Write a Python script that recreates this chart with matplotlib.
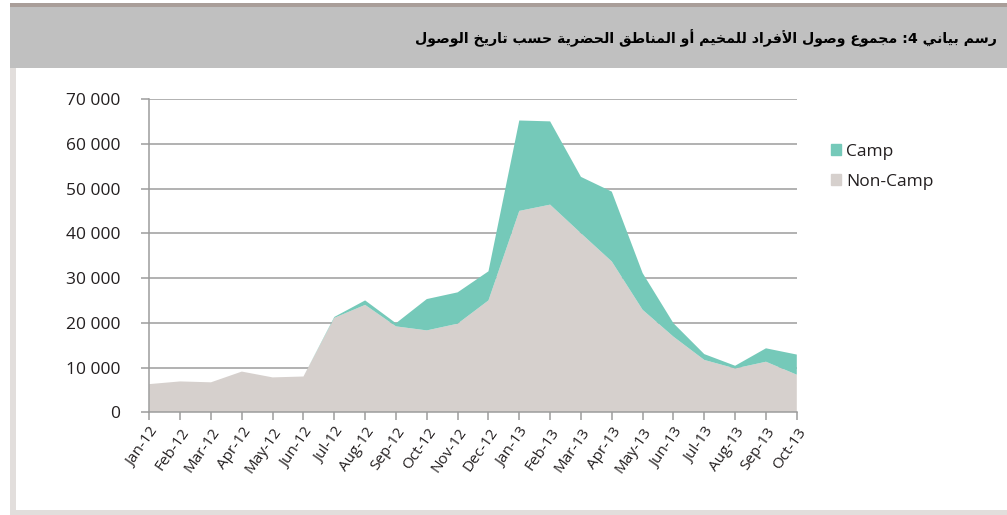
import matplotlib
matplotlib.use('Agg')
import matplotlib.pyplot as plt
from matplotlib.patches import Rectangle, Patch
from matplotlib.ticker import FuncFormatter

# --- data ---
months = ['Jan-12', 'Feb-12', 'Mar-12', 'Apr-12', 'May-12', 'Jun-12', 'Jul-12',
          'Aug-12', 'Sep-12', 'Oct-12', 'Nov-12', 'Dec-12', 'Jan-13', 'Feb-13',
          'Mar-13', 'Apr-13', 'May-13', 'Jun-13', 'Jul-13', 'Aug-13', 'Sep-13',
          'Oct-13']
non_camp = [6300, 6900, 6700, 9100, 7800, 8000, 21100, 24000, 19200, 18300,
            19800, 25000, 45000, 46400, 40000, 33700, 22900, 16900, 11700, 9800,
            11300, 8400]
camp = [0, 0, 0, 0, 0, 0, 200, 1000, 700, 7000, 7000, 6500, 20200, 18600,
        12600, 15600, 8200, 3000, 1300, 600, 3000, 4500]
y_ticks = [0, 10000, 20000, 30000, 40000, 50000, 60000, 70000]

TITLE = 'رسم بياني 4: مجموع وصول الأفراد للمخيم أو المناطق الحضرية حسب تاريخ الوصول'

COLOR_CAMP = '#75c9b9'
COLOR_NONCAMP = '#d6d0cd'
COLOR_GRID = '#9c9c9c'
COLOR_TEXT = '#231f20'

# --- arabic shaping (matplotlib does not shape/bidi by itself) ---
# isolated, final, initial, medial
FORMS = {
    'ا': (0xFE8D, 0xFE8E, None, None), 'أ': (0xFE83, 0xFE84, None, None),
    'ب': (0xFE8F, 0xFE90, 0xFE91, 0xFE92), 'ة': (0xFE93, 0xFE94, None, None),
    'ت': (0xFE95, 0xFE96, 0xFE97, 0xFE98), 'ج': (0xFE9D, 0xFE9E, 0xFE9F, 0xFEA0),
    'ح': (0xFEA1, 0xFEA2, 0xFEA3, 0xFEA4), 'خ': (0xFEA5, 0xFEA6, 0xFEA7, 0xFEA8),
    'د': (0xFEA9, 0xFEAA, None, None), 'ر': (0xFEAD, 0xFEAE, None, None),
    'س': (0xFEB1, 0xFEB2, 0xFEB3, 0xFEB4), 'ص': (0xFEB9, 0xFEBA, 0xFEBB, 0xFEBC),
    'ض': (0xFEBD, 0xFEBE, 0xFEBF, 0xFEC0), 'ط': (0xFEC1, 0xFEC2, 0xFEC3, 0xFEC4),
    'ع': (0xFEC9, 0xFECA, 0xFECB, 0xFECC), 'ف': (0xFED1, 0xFED2, 0xFED3, 0xFED4),
    'ق': (0xFED5, 0xFED6, 0xFED7, 0xFED8), 'ل': (0xFEDD, 0xFEDE, 0xFEDF, 0xFEE0),
    'م': (0xFEE1, 0xFEE2, 0xFEE3, 0xFEE4), 'ن': (0xFEE5, 0xFEE6, 0xFEE7, 0xFEE8),
    'و': (0xFEED, 0xFEEE, None, None), 'ي': (0xFEF1, 0xFEF2, 0xFEF3, 0xFEF4),
    'لأ': (0xFEF7, 0xFEF8, None, None), 'لا': (0xFEFB, 0xFEFC, None, None),
}


def shape_arabic(text):
    # split into units, merging lam-alef
    units = []
    i = 0
    while i < len(text):
        if text[i] == 'ل' and i + 1 < len(text) and text[i + 1] in 'أا':
            units.append(text[i:i + 2])
            i += 2
        else:
            units.append(text[i])
            i += 1
    out = []
    for k, u in enumerate(units):
        if u not in FORMS:
            out.append(u)
            continue
        f = FORMS[u]
        prev = units[k - 1] if k > 0 else None
        nxt = units[k + 1] if k + 1 < len(units) else None
        jp = prev in FORMS and FORMS[prev][2] is not None
        jn = nxt in FORMS and f[2] is not None
        if jp and jn:
            cp = f[3]
        elif jp:
            cp = f[1]
        elif jn:
            cp = f[2]
        else:
            cp = f[0]
        out.append(chr(cp))
    # right-to-left visual order
    return ''.join(out)[::-1]


plt.rcParams['font.family'] = ['Open Sans', 'DejaVu Sans']

W, H = 1007, 515
fig = plt.figure(figsize=(W / 100, H / 100), dpi=100, facecolor='white')


def box(x0, y0, x1, y1, color):
    # pixel box (top-left origin) -> figure fraction
    fig.add_artist(Rectangle((x0 / W, 1 - y1 / H), (x1 - x0) / W, (y1 - y0) / H,
                             transform=fig.transFigure, color=color, lw=0,
                             zorder=0))


box(10, 3, W, 7, '#a99e99')
box(10, 7, W, 68, '#c0c0c0')
box(10, 68, 16, 512, '#e2dedc')
box(10, 510, W, H, '#e2dedc')

fig.text(997 / W, 1 - 38 / H, shape_arabic(TITLE), ha='right', va='center',
         fontsize=10.2, fontweight='bold', family='DejaVu Sans', color='black')

# --- chart ---
left, right, top, bottom = 149.3, 796.8, 99, 412.3
ax = fig.add_axes([left / W, 1 - bottom / H, (right - left) / W, (bottom - top) / H])
x = list(range(len(months)))
ax.stackplot(x, non_camp, camp, colors=[COLOR_NONCAMP, COLOR_CAMP], lw=0,
             zorder=3)

ax.set_xlim(0, len(months) - 1)
ax.set_ylim(0, 70000)
ax.set_yticks(y_ticks)
ax.yaxis.set_major_formatter(FuncFormatter(lambda v, p: f'{int(v):,}'.replace(',', ' ')))
ax.set_xticks(x)
ax.set_xticklabels(months, rotation=55, ha='right', rotation_mode='anchor')

ax.grid(axis='y', color=COLOR_GRID, lw=1.1, zorder=1)
ax.set_axisbelow(True)
for s in ['top', 'right']:
    ax.spines[s].set_visible(False)
for s in ['left', 'bottom']:
    ax.spines[s].set_color(COLOR_GRID)
    ax.spines[s].set_linewidth(1.1)
    ax.spines[s].set_zorder(4)
ax.tick_params(axis='y', length=6, width=1.1, color=COLOR_GRID, labelsize=12.5,
               labelcolor=COLOR_TEXT, pad=15)
ax.tick_params(axis='x', length=6, width=1.1, color=COLOR_GRID, labelsize=11,
               labelcolor=COLOR_TEXT, pad=3)

handles = [Patch(color=COLOR_CAMP, label='Camp'),
           Patch(color=COLOR_NONCAMP, label='Non-Camp')]
fig.legend(handles=handles, loc='upper left', bbox_to_anchor=(815 / W, 1 - 128 / H),
           frameon=False, fontsize=12.5, handlelength=0.6, handleheight=0.6,
           handletextpad=0.3, labelspacing=0.8, labelcolor=COLOR_TEXT)

fig.savefig('out.png', dpi=100, facecolor='white')
